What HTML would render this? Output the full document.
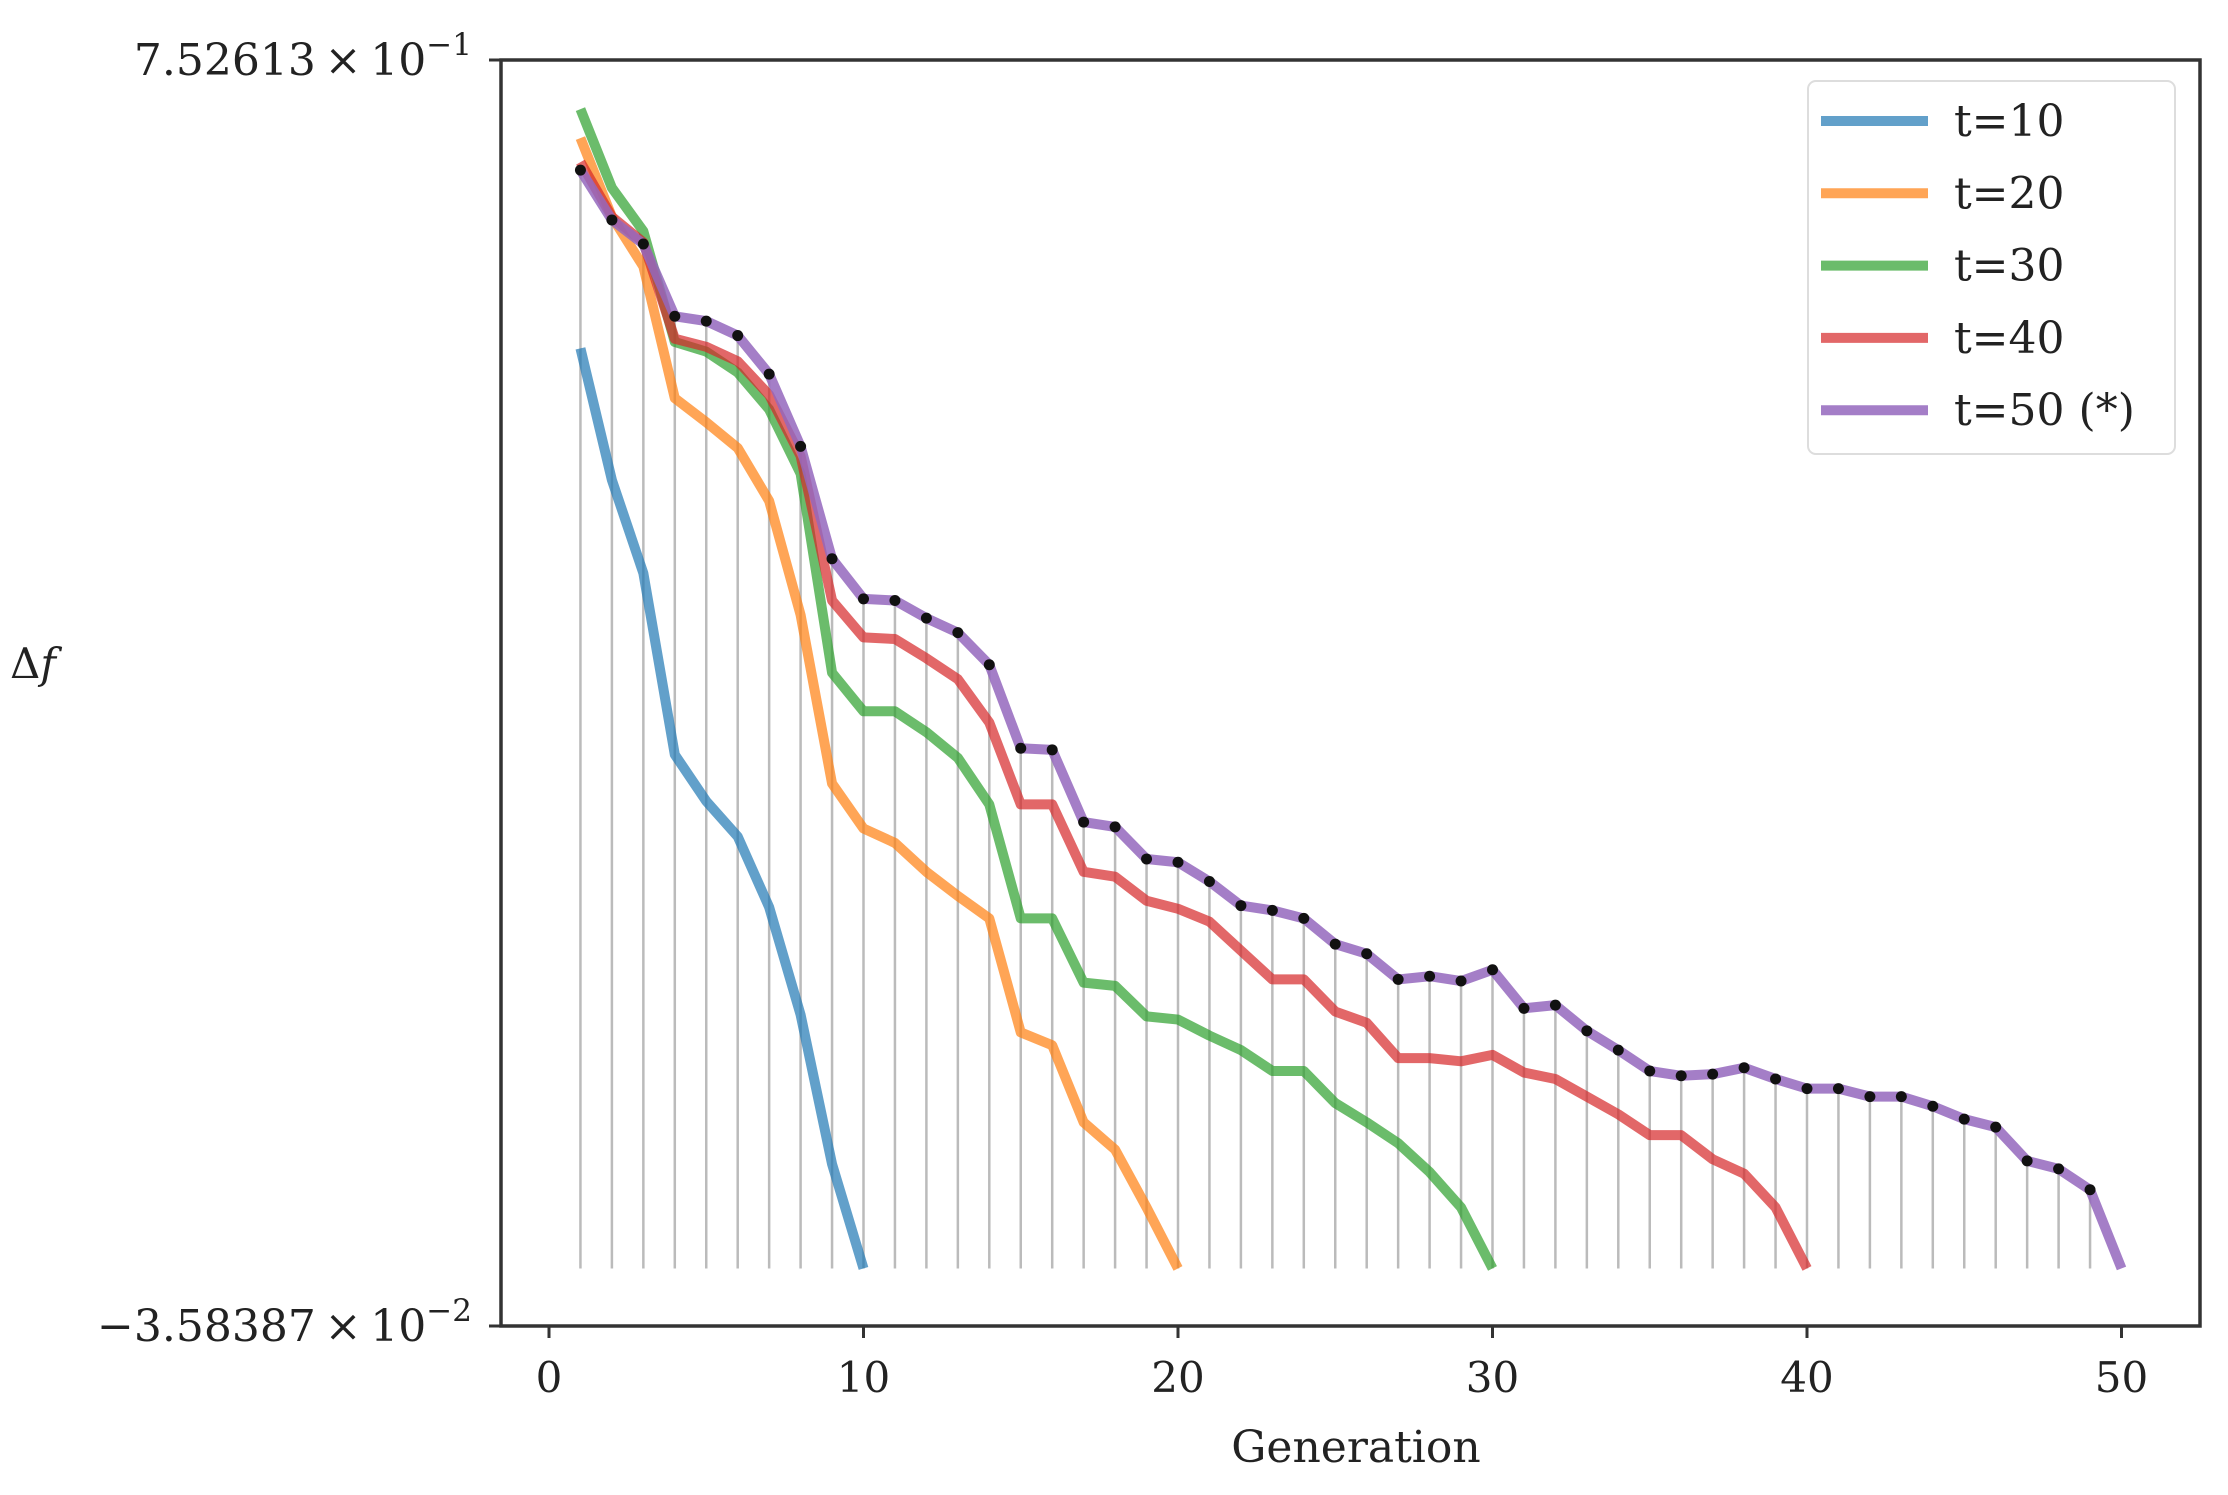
<!DOCTYPE html>
<html><head><meta charset="utf-8"><style>
html,body{margin:0;padding:0;background:#fff;}
svg{display:block;font-family:"DejaVu Serif","Liberation Serif",serif;}
</style></head><body>
<svg id="chart" width="2228" height="1495" viewBox="0 0 2228 1495" xmlns="http://www.w3.org/2000/svg">
<rect width="2228" height="1495" fill="#fff"/>
<g id="stems"></g>
<g id="lines"></g>
<g id="markers"></g>
<rect x="501" y="60" width="1699" height="1266" fill="none" stroke="#333" stroke-width="3.5"/>
<g id="xticks"></g>
<g id="yticks"></g>
<text x="1356" y="1462" font-size="44" text-anchor="middle" fill="#222">Generation</text>
<text x="10" y="678" font-size="42" fill="#222">Δ<tspan font-style="italic">f</tspan></text>
<g id="legend">
<rect x="1808" y="81" width="367" height="373" rx="8" fill="#fff" stroke="#ddd" stroke-width="2"/>
</g>
</svg>
<script>
const t10 = [0.573,0.491,0.433,0.320,0.291,0.269,0.225,0.158,0.065,0];
const t20 = [0.704,0.655,0.624,0.542,0.527,0.511,0.478,0.407,0.302,0.274,0.265,0.247,0.232,0.218,0.147,0.139,0.091,0.074,0.038,0];
const t30 = [0.722,0.673,0.646,0.577,0.571,0.558,0.535,0.495,0.371,0.347,0.347,0.334,0.318,0.289,0.218,0.218,0.178,0.176,0.157,0.155,0.145,0.136,0.123,0.123,0.103,0.091,0.078,0.060,0.038,0];
const t40 = [0.689,0.655,0.639,0.579,0.574,0.565,0.544,0.506,0.416,0.393,0.392,0.380,0.367,0.340,0.289,0.289,0.247,0.244,0.229,0.224,0.216,0.198,0.180,0.180,0.160,0.153,0.131,0.131,0.129,0.133,0.122,0.118,0.107,0.096,0.083,0.083,0.068,0.059,0.038,0];
const t50 = [0.684,0.653,0.638,0.593,0.590,0.581,0.557,0.512,0.442,0.417,0.416,0.405,0.396,0.376,0.324,0.323,0.278,0.275,0.255,0.253,0.241,0.226,0.223,0.218,0.202,0.196,0.180,0.182,0.179,0.186,0.162,0.164,0.148,0.136,0.123,0.120,0.121,0.125,0.118,0.112,0.112,0.107,0.107,0.101,0.093,0.088,0.067,0.062,0.049,0];
const seriesNames = ["t=10","t=20","t=30","t=40","t=50 (*)"];
const seriesColors = ["#1f77b4","#ff7f0e","#2ca02c","#d62728","#9467bd"];
const xTicks = [0,10,20,30,40,50];
const yTickVals = [0.752613,-0.0358387];
const yTickMant = ["7.52613","\u22123.58387"];
const yTickExp = ["\u22121","\u22122"];

const NS="http://www.w3.org/2000/svg";
const X=v=>549+31.45*v;
const Y=v=>60+(0.752613-v)/(0.752613+0.0358387)*1266;
function mk(tag,parent){const e=document.createElementNS(NS,tag);parent.appendChild(e);return e;}
const all=[t10,t20,t30,t40,t50];
const stems=document.getElementById('stems');
t50.forEach((v,i)=>{const l=mk('line',stems);


l.setAttribute('x1',X(i+1));l.setAttribute('x2',X(i+1));l.setAttribute('y1',Y(v));l.setAttribute('y2',Y(0));
l.setAttribute('stroke','#bbb');l.setAttribute('stroke-width','2.5');});
const lines=document.getElementById('lines');
all.forEach((s,k)=>{const p=mk('polyline',lines);


p.setAttribute('points',s.map((v,i)=>X(i+1)+','+Y(v)).join(' '));
p.setAttribute('fill','none');p.setAttribute('stroke',seriesColors[k]);p.setAttribute('stroke-width','10');
p.setAttribute('stroke-opacity',k===4?'0.85':'0.7');p.setAttribute('stroke-linejoin','round');});
const mkrs=document.getElementById('markers');
t50.forEach((v,i)=>{if(i===t50.length-1)return;const c=mk('circle',mkrs);


c.setAttribute('cx',X(i+1));c.setAttribute('cy',Y(v));c.setAttribute('r','5.5');c.setAttribute('fill','#111');});
const xt=document.getElementById('xticks');
xTicks.forEach(t=>{const l=mk('line',xt);


l.setAttribute('x1',X(t));l.setAttribute('x2',X(t));l.setAttribute('y1',1326);l.setAttribute('y2',1338);l.setAttribute('stroke','#333');l.setAttribute('stroke-width','3');
const tx=mk('text',xt);


tx.setAttribute('x',X(t));tx.setAttribute('y',1392);tx.setAttribute('font-size','42');tx.setAttribute('text-anchor','middle');tx.setAttribute('fill','#222');tx.textContent=t;});
const yt=document.getElementById('yticks');
yTickVals.forEach((v,i)=>{const y=Y(v);const l=mk('line',yt);


l.setAttribute('x1',489);l.setAttribute('x2',501);l.setAttribute('y1',y);l.setAttribute('y2',y);l.setAttribute('stroke','#333');l.setAttribute('stroke-width','3');
const tx=mk('text',yt);


tx.setAttribute('x',472);tx.setAttribute('y',y+15);tx.setAttribute('font-size','44');tx.setAttribute('text-anchor','end');tx.setAttribute('fill','#222');
tx.innerHTML=yTickMant[i]+'\u2009\u00d7\u200910<tspan dy="-20" font-size="31">'+yTickExp[i]+'</tspan>';});
const lg=document.getElementById('legend');
seriesNames.forEach((n,k)=>{const y=121+k*72.3;const l=mk('line',lg);


l.setAttribute('x1',1821);l.setAttribute('x2',1928);l.setAttribute('y1',y);l.setAttribute('y2',y);l.setAttribute('stroke',seriesColors[k]);l.setAttribute('stroke-opacity',k===4?'0.85':'0.7');l.setAttribute('stroke-width','10');
const tx=mk('text',lg);


tx.setAttribute('x',1954);tx.setAttribute('y',y+15);tx.setAttribute('font-size','44');tx.setAttribute('fill','#222');tx.textContent=n;});
</script>
</body></html>
